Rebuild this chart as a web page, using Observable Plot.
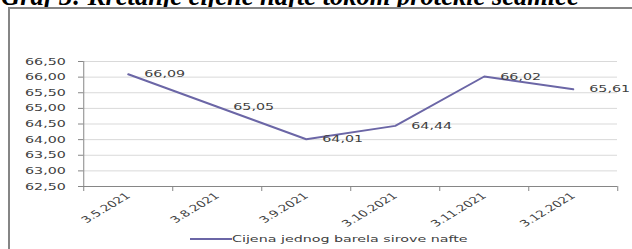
<!DOCTYPE html>
<html><head><meta charset="utf-8">
<script src="https://cdn.jsdelivr.net/npm/d3@7"></script>
<script src="https://cdn.jsdelivr.net/npm/@observablehq/plot@0.6"></script>
<style>
html,body{margin:0;padding:0;background:#fff;}
#wrap{position:relative;width:632px;height:249px;overflow:hidden;}
#title{position:absolute;left:1px;top:-19.5px;font:bold italic 26.5px "Liberation Serif";white-space:nowrap;color:#000;line-height:30px;}
#box{position:absolute;left:8px;top:7px;width:700px;height:300px;border-left:2px solid #858585;border-top:2px solid #858585;background:#fff;}
#chart{position:absolute;left:0;top:0;}
#chart svg *{vector-effect:non-scaling-stroke;}
#legend{position:absolute;left:190px;top:233px;transform:scaleX(1.5);transform-origin:0 50%;font:9.5px "DejaVu Sans";color:#404040;white-space:nowrap;display:flex;align-items:center;}
</style></head><body>
<div id="wrap">
<div id="title">Graf 3: Kretanje cijene nafte tokom protekle sedmice</div>
<div id="box"></div>
<div id="chart"></div>
<div id="legend"><svg width="28" height="10"><line x1="0" x2="28" y1="5" y2="5" stroke="#6b66a6" stroke-width="2"/></svg><span id="legtext"></span></div>
</div>
<script>
const dates = ["3.5.2021","3.8.2021","3.9.2021","3.10.2021","3.11.2021","3.12.2021"];
const prices = [66.09, 65.05, 64.01, 64.44, 66.02, 65.61];
const yTicks = [62.5, 63, 63.5, 64, 64.5, 65, 65.5, 66, 66.5];
const seriesName = "Cijena jednog barela sirove nafte";

const W = 632, H = 249, S = 1.5;
const PW = W / S;
const lineColor = "#6b66a6";
const data = dates.map((d, i) => ({date: d, idx: i + 0.5, price: prices[i]}));
const fmt = v => v.toFixed(2).replace(".", ",");

const chart = Plot.plot({
  width: PW, height: H,
  marginLeft: 83 / S, marginRight: (W - 617) / S, marginTop: 61, marginBottom: H - 186,
  style: {fontFamily: "DejaVu Sans", fontSize: "9.5px", background: "transparent", color: "#404040", overflow: "visible"},
  x: {type: "linear", domain: [0, dates.length]},
  y: {domain: [d3.min(yTicks), d3.max(yTicks)]},
  marks: [
    Plot.gridY(yTicks, {stroke: "#d9d9d9", strokeOpacity: 1}),
    Plot.axisY({ticks: yTicks, tickFormat: fmt, tickSize: 5 / S, tickPadding: 8.6, stroke: "#868686", fill: "#404040", label: null}),
    Plot.ruleX([0], {stroke: "#868686"}),
    Plot.ruleY([d3.min(yTicks)], {stroke: "#868686"}),
    Plot.axisX({ticks: d3.range(dates.length + 1), tickFormat: () => "", tickSize: 5, stroke: "#868686", label: null}),
    Plot.axisX({ticks: data.map(d => d.idx), tickFormat: v => dates[Math.floor(v)], tickSize: 0, tickPadding: 8, tickRotate: -42, fontSize: 9, fill: "#404040", label: null}),
    Plot.line(data, {x: "idx", y: "price", stroke: lineColor, strokeWidth: 2}),
    Plot.text(data, {x: "idx", y: "price", text: d => fmt(d.price), textAnchor: "start", dx: 16 / S, fill: "#404040"})
  ]
});
chart.setAttribute("width", W);
chart.setAttribute("height", H);
chart.setAttribute("preserveAspectRatio", "none");
chart.style.width = W + "px";
chart.style.height = H + "px";
chart.style.maxWidth = "none";
document.getElementById("chart").appendChild(chart);
document.getElementById("legtext").textContent = seriesName;
</script>
</body></html>
